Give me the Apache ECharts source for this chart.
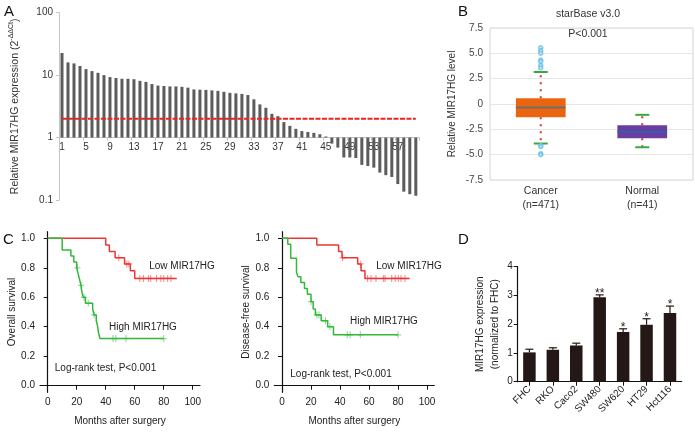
<!DOCTYPE html>
<html><head><meta charset="utf-8">
<script src="https://cdn.jsdelivr.net/npm/echarts@6/dist/echarts.min.js"></script>
<style>html,body{margin:0;padding:0;background:#fff}#c{width:695px;height:432px}</style>
</head><body><div id="c"></div>
<script>
// ---------- Panel A ----------
const aValues = [22.6,16,15.4,14,12.5,11.6,10.9,10,9.3,9.0,
  8.75,8.75,8.6,8.1,7.8,7.2,6.8,6.7,6.6,6.6,
  6.5,6.3,5.9,5.85,5.8,5.7,5.6,5.4,5.2,5.1,
  5.0,4.8,4.1,3.4,3.0,2.4,2.2,1.77,1.54,1.38,
  1.27,1.23,1.19,1.13,1.04,0.8,0.69,0.48,0.48,0.47,
  0.365,0.35,0.33,0.275,0.25,0.234,0.18,0.136,0.124,0.117];
const aCategories = aValues.map((v, i) => String(i + 1));
const aBase = 1;
const aThreshold = 2;
// ---------- Panel B ----------
const bCategories = ['Cancer', 'Normal'];
const bCounts = ['(n=471)', '(n=41)'];
// [lowCap, q1, median, q3, highCap]
const bCancer = [-3.9, -1.3, -0.34, 0.56, 3.16];
const bNormal = [-4.27, -3.37, -2.74, -2.1, -1.07];
const bCancerOutliers = [5.56, 5.26, 5.0, 4.33, 4.2, 3.8, 3.56, -4.1, -4.2, -4.9, -5.0];
// ---------- Panel C ----------
const osLow = [[0,1],[40,0.955],[42.5,0.91],[46.5,0.868],[53,0.826],[57,0.78],[60,0.728],[89,0.728]];
const osLowCensor = [49, 54.5, 56, 63.5, 66, 69.5, 71, 75, 78, 80, 82.7, 85];
const osHigh = [[0,1],[10,0.92],[16,0.88],[18,0.84],[20,0.8],[21,0.76],[22,0.72],[23,0.68],[23.5,0.64],[24.5,0.6],[26,0.56],[31,0.52],[32,0.48],[33.5,0.44],[34.5,0.4],[35,0.36],[36,0.32],[80,0.32]];
const osHighCensor = [20.5, 23, 25, 28, 32, 45, 47, 54, 80];
const dfsLow = [[0,1],[24,0.955],[39,0.91],[41.4,0.868],[52.2,0.826],[54.5,0.78],[57.2,0.728],[88,0.728]];
const dfsLowCensor = [41.8, 54.3, 59, 61.4, 64.8, 69.9, 71, 75.6, 78.1, 80.2, 82, 84.8];
const dfsHigh = [[0,1],[4,0.96],[6,0.865],[10,0.77],[11,0.74],[13,0.7],[15.5,0.66],[17.5,0.62],[20,0.57],[21.5,0.52],[23,0.48],[27,0.44],[31.5,0.4],[35.5,0.345],[80,0.345]];
const dfsHighCensor = [20, 24, 25.5, 30, 33, 45, 47, 54, 80];
const cTicksX = [0, 20, 40, 60, 80, 100];
const cTicksY = [0, 0.2, 0.4, 0.6, 0.8, 1.0];
// ---------- Panel D ----------
const dCategories = ['FHC', 'RKO', 'Caco2', 'SW480', 'SW620', 'HT29', 'Hct116'];
const dMeans = [1.02, 1.11, 1.26, 2.94, 1.73, 1.98, 2.39];
const dErrors = [0.11, 0.07, 0.08, 0.08, 0.11, 0.21, 0.24];
const dSig = ['', '', '', '**', '*', '*', '*'];

const FONT = '"Liberation Sans", Arial, Helvetica, sans-serif';
const RED = '#ee3535', GREEN = '#34b83a';

function stepAt(curve, t) {
  let s = curve[0][1];
  for (const p of curve) { if (p[0] <= t) s = p[1]; }
  return s;
}
const censorPts = (curve, ts) => ts.map(t => [t, stepAt(curve, t)]);

const chart = echarts.init(document.getElementById('c'), null, {renderer: 'canvas'});

const kmX = (gi) => ({
  type: 'value', gridIndex: gi, min: -5.3, max: 105,
  axisLine: {show: true, lineStyle: {color: '#111', width: 1.2}},
  axisTick: {show: true, length: 4, lineStyle: {color: '#111'}, customValues: cTicksX},
  axisLabel: {fontSize: 10, color: '#222', margin: 5, customValues: cTicksX},
  splitLine: {show: false},
  name: 'Months after surgery', nameLocation: 'middle', nameGap: 24,
  nameTextStyle: {fontSize: 10, color: '#222'}
});
const kmY = (gi, name) => ({
  type: 'value', gridIndex: gi, min: -0.045, max: 1.045,
  axisLine: {show: true, lineStyle: {color: '#111', width: 1.2}},
  axisTick: {show: true, length: 4, lineStyle: {color: '#111'}, customValues: cTicksY},
  axisLabel: {fontSize: 10, color: '#222', margin: 5, customValues: cTicksY, formatter: v => v.toFixed(1)},
  splitLine: {show: false},
  name: name, nameLocation: 'middle', nameGap: 23,
  nameTextStyle: {fontSize: 10, color: '#222'}
});
const kmLine = (gi, data, color) => ({
  type: 'line', xAxisIndex: gi, yAxisIndex: gi, data: data, step: 'end',
  symbol: 'none', lineStyle: {color: color, width: 1.5}, silent: true, animation: false
});
const PLUS = 'path://M-0.18,-1H0.18V-0.18H1V0.18H0.18V1H-0.18V0.18H-1V-0.18H-0.18Z';
const kmCensor = (gi, pts, color) => ({
  type: 'scatter', xAxisIndex: gi, yAxisIndex: gi, data: pts,
  symbol: PLUS, symbolSize: [6, 7], itemStyle: {color: color, opacity: 0.55}, silent: true, animation: false
});

const option = {
  animation: false,
  textStyle: {fontFamily: FONT},
  grid: [
    {left: 57, top: 12.7, width: 361.8, height: 187.3},
    {left: 490, top: 28, width: 203, height: 152, show: true, borderColor: '#d4d4d4', borderWidth: 1},
    {left: 40, top: 231.7, width: 160, height: 160.6},
    {left: 274.3, top: 231.7, width: 160, height: 160.6},
    {left: 517.7, top: 266.7, width: 164, height: 115}
  ],
  xAxis: [
    {type: 'category', gridIndex: 0, data: aCategories, offset: -62.4,
     axisLine: {lineStyle: {color: '#c4c4c4'}},
     axisTick: {show: true, length: 3, lineStyle: {color: '#c4c4c4'}},
     axisLabel: {interval: 3, fontSize: 10, color: '#333', margin: 5}},
    {type: 'category', gridIndex: 1, data: bCategories,
     axisLine: {show: false}, axisTick: {show: false},
     axisLabel: {fontSize: 10.5, color: '#333', margin: 4, lineHeight: 14,
       formatter: (v, i) => v + '\n' + bCounts[i]}},
    kmX(2), kmX(3),
    {type: 'category', gridIndex: 4, data: dCategories,
     axisLine: {lineStyle: {color: '#111', width: 1.2}},
     axisTick: {show: true, alignWithLabel: true, length: 4, lineStyle: {color: '#111'}},
     axisLabel: {rotate: 45, fontSize: 10, color: '#222', margin: 6, interval: 0}}
  ],
  yAxis: [
    {type: 'log', logBase: 10, gridIndex: 0, min: 0.1, max: 100,
     axisLine: {show: true, lineStyle: {color: '#c4c4c4'}},
     axisTick: {show: true, length: 3, lineStyle: {color: '#c4c4c4'}},
     axisLabel: {fontSize: 10, color: '#333', margin: 6},
     splitLine: {show: false},
     name: '{n|Relative MIR17HG expression (2}{s|-ΔΔCt}{n|)}', nameLocation: 'middle', nameGap: 37,
     nameTextStyle: {color: '#333', rich: {n: {fontSize: 10.5, color: '#333', lineHeight: 14}, s: {fontSize: 7, color: '#333', verticalAlign: 'top', lineHeight: 14}}}},
    {type: 'value', gridIndex: 1, min: -7.5, max: 7.5, interval: 2.5,
     axisLine: {show: false}, axisTick: {show: false},
     axisLabel: {fontSize: 10, color: '#444', margin: 7, formatter: v => v === 0 ? '0' : v.toFixed(1)},
     splitLine: {show: true, lineStyle: {color: '#e6e6e6'}},
     name: 'Relative MIR17HG level', nameLocation: 'middle', nameGap: 33,
     nameTextStyle: {fontSize: 10, color: '#333'}},
    kmY(2, 'Overall survival'), kmY(3, 'Disease-free survival'),
    {type: 'value', gridIndex: 4, min: 0, max: 4, interval: 1,
     axisLine: {show: true, lineStyle: {color: '#111', width: 1.2}},
     axisTick: {show: true, length: 4, lineStyle: {color: '#111'}},
     axisLabel: {fontSize: 10, color: '#222', margin: 5},
     splitLine: {show: false},
     name: 'MIR17HG expression\n(normalized to FHC)', nameLocation: 'middle', nameGap: 13,
     nameTextStyle: {fontSize: 10, color: '#222', lineHeight: 15}}
  ],
  series: [
    // Panel A bars
    {type: 'custom', xAxisIndex: 0, yAxisIndex: 0, silent: true,
     data: aValues.map((v, i) => [i, v]), encode: {x: 0, y: 1},
     renderItem: (params, api) => {
       const i = api.value(0), v = api.value(1);
       const p0 = api.coord([i, aBase]), p1 = api.coord([i, v]);
       const w = 3;
       return {type: 'rect', shape: {x: p0[0] - w / 2, y: Math.min(p0[1], p1[1]), width: w, height: Math.abs(p1[1] - p0[1])},
               style: {fill: '#5c5c5c'}};
     }},
    {type: 'line', xAxisIndex: 0, yAxisIndex: 0, silent: true, symbol: 'none',
     data: [[aCategories[0], aThreshold], [aCategories[aCategories.length - 1], aThreshold]],
     lineStyle: {color: '#f02020', width: 2, type: [5, 1.5]}},
    // Panel B boxes
    {type: 'custom', xAxisIndex: 1, yAxisIndex: 1, silent: true,
     data: [[0].concat(bCancer), [1].concat(bNormal)], encode: {x: 0, y: [1, 2, 3, 4, 5]},
     renderItem: (params, api) => {
       const i = api.value(0);
       const lo = api.coord([i, api.value(1)]), q1 = api.coord([i, api.value(2)]),
             md = api.coord([i, api.value(3)]), q3 = api.coord([i, api.value(4)]), hi = api.coord([i, api.value(5)]);
       const bw = api.size([1, 0])[0] * 0.49, cx = lo[0], cap = 7;
       const fill = i === 0 ? '#eb640f' : '#6a3d9e';
       const medc = i === 0 ? '#6e6e6e' : '#2f5fb0';
       const dot = {stroke: '#d23a26', lineWidth: 2, lineDash: [2, 5]};
       return {type: 'group', children: [
         {type: 'line', shape: {x1: cx, y1: q3[1], x2: cx, y2: hi[1]}, style: dot},
         {type: 'line', shape: {x1: cx, y1: q1[1], x2: cx, y2: lo[1]}, style: dot},
         {type: 'rect', shape: {x: cx - bw / 2, y: q3[1], width: bw, height: q1[1] - q3[1]}, style: {fill: fill}},
         {type: 'line', shape: {x1: cx - bw / 2, y1: md[1], x2: cx + bw / 2, y2: md[1]}, style: {stroke: medc, lineWidth: 2}},
         {type: 'line', shape: {x1: cx - cap, y1: hi[1], x2: cx + cap, y2: hi[1]}, style: {stroke: '#3aa83a', lineWidth: 2}},
         {type: 'line', shape: {x1: cx - cap, y1: lo[1], x2: cx + cap, y2: lo[1]}, style: {stroke: '#3aa83a', lineWidth: 2}}
       ]};
     }},
    {type: 'scatter', xAxisIndex: 1, yAxisIndex: 1, silent: true,
     data: bCancerOutliers.map(v => [bCategories[0], v]),
     symbol: 'emptyCircle', symbolSize: 3.5, itemStyle: {color: '#6cc0e4', borderWidth: 0.8}},
    // Panel C
    kmLine(2, osLow, RED), kmLine(2, osHigh, GREEN),
    kmCensor(2, censorPts(osLow, osLowCensor), RED), kmCensor(2, censorPts(osHigh, osHighCensor), GREEN),
    kmLine(3, dfsLow, RED), kmLine(3, dfsHigh, GREEN),
    kmCensor(3, censorPts(dfsLow, dfsLowCensor), RED), kmCensor(3, censorPts(dfsHigh, dfsHighCensor), GREEN),
    // Panel D
    {type: 'bar', xAxisIndex: 4, yAxisIndex: 4, silent: true, data: dMeans, barWidth: 12.5,
     itemStyle: {color: '#231815'}},
    {type: 'custom', xAxisIndex: 4, yAxisIndex: 4, silent: true, z: 5,
     data: dMeans.map((m, i) => [i, m, dErrors[i]]), encode: {x: 0, y: 1},
     renderItem: (params, api) => {
       const i = api.value(0), m = api.value(1), e = api.value(2);
       const top = api.coord([i, m + e]), mid = api.coord([i, m]);
       const ch = [
         {type: 'line', shape: {x1: top[0], y1: mid[1], x2: top[0], y2: top[1]}, style: {stroke: '#231815', lineWidth: 1.2}},
         {type: 'line', shape: {x1: top[0] - 4, y1: top[1], x2: top[0] + 4, y2: top[1]}, style: {stroke: '#231815', lineWidth: 1.2}}
       ];
       const s = dSig[params.dataIndex];
       if (s) ch.push({type: 'text', x: top[0], y: top[1] + 5,
         style: {text: s, align: 'center', verticalAlign: 'bottom', fontSize: 12, fill: '#231815', fontFamily: FONT}});
       return {type: 'group', children: ch};
     }}
  ],
  graphic: [
    {type: 'text', left: 4, top: 4, style: {text: 'A', fontSize: 15, fill: '#111', fontFamily: FONT}},
    {type: 'text', left: 458, top: 4, style: {text: 'B', fontSize: 15, fill: '#111', fontFamily: FONT}},
    {type: 'text', left: 3, top: 232, style: {text: 'C', fontSize: 15, fill: '#111', fontFamily: FONT}},
    {type: 'text', left: 458, top: 232, style: {text: 'D', fontSize: 15, fill: '#111', fontFamily: FONT}},
    {type: 'text', x: 588, y: 14, style: {text: 'starBase v3.0', fontSize: 10.5, fill: '#333', align: 'center', verticalAlign: 'middle', fontFamily: FONT}},
    {type: 'text', x: 588, y: 34, style: {text: 'P<0.001', fontSize: 10.5, fill: '#333', align: 'center', verticalAlign: 'middle', fontFamily: FONT}},
    {type: 'text', x: 182, y: 266, style: {text: 'Low MIR17HG', fontSize: 10, fill: '#222', align: 'center', verticalAlign: 'middle', fontFamily: FONT}},
    {type: 'text', x: 143, y: 327, style: {text: 'High MIR17HG', fontSize: 10, fill: '#222', align: 'center', verticalAlign: 'middle', fontFamily: FONT}},
    {type: 'text', x: 105.5, y: 368.5, style: {text: 'Log-rank test, P<0.001', fontSize: 10, fill: '#222', align: 'center', verticalAlign: 'middle', fontFamily: FONT}},
    {type: 'text', x: 409, y: 266, style: {text: 'Low MIR17HG', fontSize: 10, fill: '#222', align: 'center', verticalAlign: 'middle', fontFamily: FONT}},
    {type: 'text', x: 384, y: 321, style: {text: 'High MIR17HG', fontSize: 10, fill: '#222', align: 'center', verticalAlign: 'middle', fontFamily: FONT}},
    {type: 'text', x: 341, y: 374, style: {text: 'Log-rank test, P<0.001', fontSize: 10, fill: '#222', align: 'center', verticalAlign: 'middle', fontFamily: FONT}}
  ]
};
chart.setOption(option);
</script>
</body></html>
